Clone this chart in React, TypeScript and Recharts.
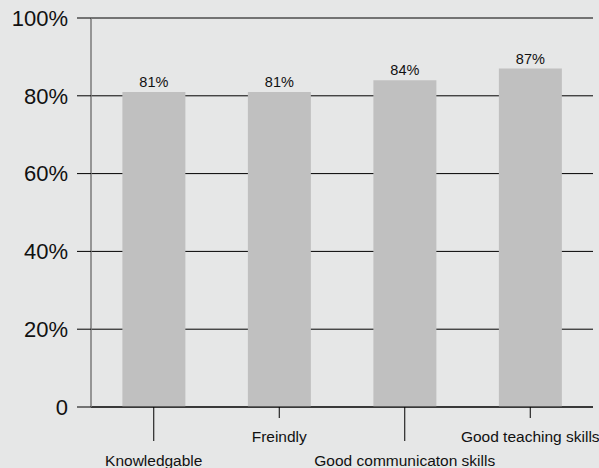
import React from "react";
import { BarChart, Bar, XAxis, YAxis, CartesianGrid, LabelList } from "recharts";

const categories = ["Knowledgable", "Freindly", "Good communicaton skills", "Good teaching skills"];
const values = [81, 81, 84, 87];
const yTicks = [0, 20, 40, 60, 80, 100];

const data = categories.map((name, i) => ({ name, value: values[i] }));

const FONT = '"Liberation Sans", Arial, Helvetica, sans-serif';

const XTick = (props: any) => {
  const { x, y, payload, index } = props;
  const long = index % 2 === 0;
  const len = long ? 34 : 11;
  const ty = long ? 460 - 407 : 436 - 407;
  return (
    <g>
      <line x1={x} y1={y} x2={x} y2={y + len} stroke="#000" strokeWidth={1} />
      <text
        x={x}
        y={y + ty}
        textAnchor="middle"
        dominantBaseline="central"
        fontSize={15.5}
        fontFamily={FONT}
        fill="#111"
      >
        {payload.value}
      </text>
    </g>
  );
};

export default function App() {
  return (
    <div
      style={{
        position: "absolute",
        left: 0,
        top: 0,
        width: 599,
        height: 468,
        background: "#e6e7e7",
        overflow: "hidden",
      }}
    >
      <BarChart
        width={599}
        height={468}
        data={data}
        margin={{ top: 18, right: 6, bottom: 0, left: 0 }}
        barCategoryGap="25%"
      >
        <CartesianGrid horizontal={true} vertical={false} stroke="#000" strokeWidth={1} />
        <XAxis
          dataKey="name"
          height={61}
          interval={0}
          axisLine={{ stroke: "#000" }}
          tickLine={false}
          tickSize={0}
          tickMargin={0}
          tick={<XTick />}
        />
        <YAxis
          width={91}
          domain={[0, 100]}
          ticks={yTicks}
          interval={0}
          axisLine={{ stroke: "#7a7a7a", strokeWidth: 1.5 }}
          tickLine={{ stroke: "#000" }}
          tickSize={14}
          tickMargin={9}
          tickFormatter={(v: number) => (v === 0 ? "0" : `${v}%`)}
          tick={{ fontSize: 22, fontFamily: FONT, fill: "#111" }}
        />
        <Bar dataKey="value" fill="#c0c0c0" isAnimationActive={false}>
          <LabelList
            dataKey="value"
            position="top"
            offset={5}
            formatter={(v: number) => `${v}%`}
            style={{ fontSize: 14.5, fontFamily: FONT, fill: "#111" }}
          />
        </Bar>
      </BarChart>
    </div>
  );
}
